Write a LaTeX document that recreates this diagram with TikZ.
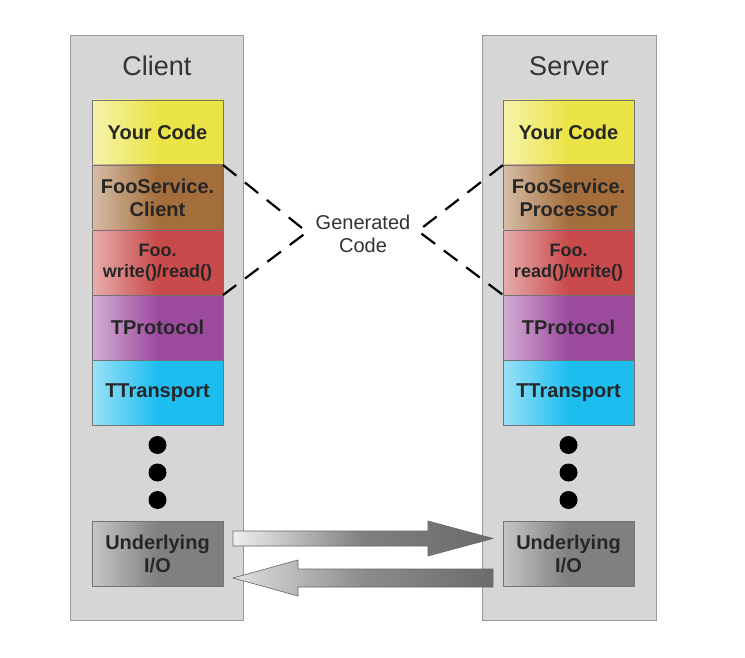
\documentclass[tikz,border=0pt]{standalone}
\usepackage{fontspec}
\setmainfont{Liberation Sans}
\usepackage{xcolor}
\usetikzlibrary{positioning,calc}
\definecolor{panelgray}{HTML}{D6D6D6}
\definecolor{yourcol}{HTML}{EBE446}
\definecolor{svccol}{HTML}{A46E3C}
\definecolor{foocol}{HTML}{C94A4A}
\definecolor{protocol}{HTML}{9C4A9E}
\definecolor{transport}{HTML}{1EBDF0}
\definecolor{iocol}{HTML}{808080}
\tikzset{
	panel/.style={draw=black!40, fill=panelgray, line width=0.8pt},
	layer/.style={
			draw=black!55, line width=0.8pt, outer sep=0pt,
			minimum width=131pt, minimum height=65pt, inner sep=0pt,
			align=center, text=black!85,
			font=\fontsize{20}{23}\selectfont\bfseries,
			left color=#1!45!white, right color=#1, middle color=#1
		},
	dot/.style={circle, fill=black, minimum size=18pt, inner sep=0pt, outer sep=0pt},
	title/.style={text=black!80, font=\fontsize{27}{30}\selectfont},
	gencode/.style={black, line width=2.2pt, dash pattern=on 17pt off 11pt},
	pipe/.style={draw=black!60, line width=0.6pt}
}

\begin{document}
\begin{tikzpicture}[x=1pt,y=-1pt]
		\useasboundingbox (0,0) rectangle (745,658);
		\fill[white] (0,0) rectangle (745,658);
		% the two columns
		\draw[panel] (70,35) rectangle (243,620);
		\draw[panel] (482,35) rectangle (656,620);
		\node[title] (ctitle) at (157,66) {Client};
		\node[title] (stitle) at (569,66) {Server};
		% client stack
		\node[layer=yourcol] (cyour) at (157.5,132.5) {Your Code};
		\node[layer=svccol, below=0pt of cyour] (csvc) {FooService.\\Client};
		\node[layer=foocol, below=0pt of csvc, font=\fontsize{18}{21}\selectfont\bfseries] (cfoo) {Foo.\\write()/read()};
		\node[layer=protocol, below=0pt of cfoo] (cproto) {TProtocol};
		\node[layer=transport, below=0pt of cproto] (ctrans) {TTransport};
		\node[dot, below=11pt of ctrans] (cdot1) {};
		\node[dot, below=9.5pt of cdot1] (cdot2) {};
		\node[dot, below=9.5pt of cdot2] (cdot3) {};
		\node[layer=iocol] (cio) at (157.5,553.5) {Underlying\\I/O};
		% server stack
		\node[layer=yourcol] (syour) at (568.5,132.5) {Your Code};
		\node[layer=svccol, below=0pt of syour] (ssvc) {FooService.\\Processor};
		\node[layer=foocol, below=0pt of ssvc, font=\fontsize{18}{21}\selectfont\bfseries] (sfoo) {Foo.\\read()/write()};
		\node[layer=protocol, below=0pt of sfoo] (sproto) {TProtocol};
		\node[layer=transport, below=0pt of sproto] (strans) {TTransport};
		\node[dot, below=11pt of strans] (sdot1) {};
		\node[dot, below=9.5pt of sdot1] (sdot2) {};
		\node[dot, below=9.5pt of sdot2] (sdot3) {};
		\node[layer=iocol] (sio) at (568.5,553.5) {Underlying\\I/O};
		% generated code
		\node[text=black!80, align=center, font=\fontsize{20}{23}\selectfont] (gen) at (363,234) {Generated\\Code};
		\coordinate (gl) at (307,232);
		\coordinate (gr) at (418,231);
		\draw[gencode] (cyour.south east) -- (gl) -- (cfoo.south east);
		\draw[gencode] (syour.south west) -- (gr) -- (sfoo.south west);
		% data flow between the I/O layers
		\coordinate (outa) at ($(cio.east)+(10,-15)$);
		\coordinate (outb) at ($(sio.west)+(-10,-15)$);
		\draw[pipe, left color=black!6, right color=black!58, middle color=black!50]
			($(outa)+(0,-7.5)$) -- ($(outb)+(-65,-7.5)$) -- ($(outb)+(-65,-17.5)$) -- (outb)
			-- ($(outb)+(-65,17.5)$) -- ($(outb)+(-65,7.5)$) -- ($(outa)+(0,7.5)$) -- cycle;
		\coordinate (ina) at ($(sio.west)+(-10,24.5)$);
		\coordinate (inb) at ($(cio.east)+(10,24.5)$);
		\draw[pipe, left color=black!12, right color=black!58, middle color=black!45]
			($(ina)+(0,-9)$) -- ($(inb)+(65,-9)$) -- ($(inb)+(65,-18)$) -- (inb)
			-- ($(inb)+(65,18)$) -- ($(inb)+(65,9)$) -- ($(ina)+(0,9)$) -- cycle;
	\end{tikzpicture}
\end{document}
